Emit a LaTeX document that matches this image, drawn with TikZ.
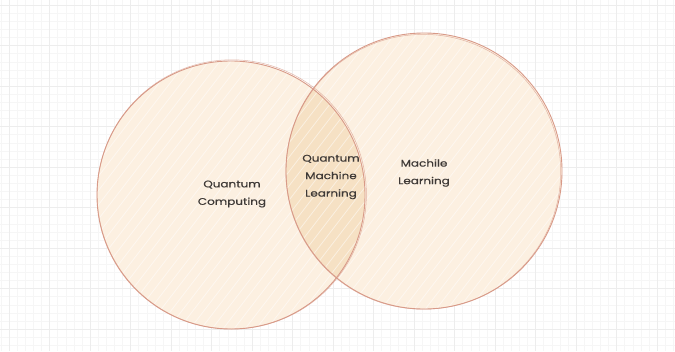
\documentclass[tikz,border=0pt]{standalone}
\usepackage{fontspec}
\usetikzlibrary{calc}
\newfontfamily\labelfont[FakeStretch=1.25, FakeBold=0.6]{Poppins}
\definecolor{paper}{HTML}{FFFFFF}
\definecolor{gridminor}{HTML}{F6F6F6}
\definecolor{gridmajor}{HTML}{EDEDED}
\definecolor{cream}{HTML}{FCF0E1}
\definecolor{lens}{HTML}{F6E1C4}
\definecolor{rim}{HTML}{D89A88}
\definecolor{ink}{HTML}{3E3936}
\tikzset{
  setlabel/.style={font=\labelfont\fontsize{9.6}{17.5}\selectfont, text=ink, align=center, inner sep=0pt},
  rimline/.style={draw=rim, line width=0.9pt},
  hatch/.style={draw=white, line width=0.8pt, opacity=0.5},
}
\begin{document}
\begin{tikzpicture}[x=1pt,y=-1pt]
  \useasboundingbox (0,0) rectangle (675,351);
  \fill[paper] (0,0) rectangle (675,351);

  % background grid
  \foreach \k in {0,...,84} {
    \draw[gridminor, line width=0.4pt] (9+\k*8.1-8.1*2,0) -- ++(0,351);
  }
  \foreach \k in {0,...,44} {
    \draw[gridminor, line width=0.4pt] (0,5+\k*8.1-8.1) -- ++(675,0);
  }
  \foreach \k in {0,...,17} {
    \draw[gridmajor, line width=0.6pt] (9+\k*40.5,0) -- ++(0,351);
  }
  \foreach \k in {0,...,9} {
    \draw[gridmajor, line width=0.6pt] (0,5+\k*40.5) -- ++(675,0);
  }

  % circle centres
  \coordinate (qc) at (231,195);
  \coordinate (ml) at (424,171);

  % fills
  \fill[cream] (qc) circle (134);
  \fill[cream] (ml) circle (138);
  \begin{scope}
    \clip (qc) circle (134);
    \fill[lens] (ml) circle (138);
  \end{scope}

  % hachure strokes inside both sets
  \begin{scope}
    \clip (qc) circle (134) (ml) circle (138);
    \foreach \k in {-300,-289,...,700} {
      \draw[hatch] (\k,351) -- ++(270,-351);
    }
  \end{scope}

  % sketchy outlines
  \draw[rimline] (qc) circle (134);
  \draw[rim, line width=0.5pt, opacity=0.7] ($(qc)+(0.8,-0.6)$) circle (134.6);
  \draw[rimline] (ml) circle (138);
  \draw[rim, line width=0.5pt, opacity=0.7] ($(ml)+(-0.7,0.8)$) circle (137.4);

  % labels
  \node[setlabel] (qcomp) at (232,194) {Quantum\\Computing};
  \node[setlabel] (qml) at (331,177) {Quantum\\Machine\\Learning};
  \node[setlabel] (mlearn) at (424,173) {Machile\\Learning};
\end{tikzpicture}
\end{document}
